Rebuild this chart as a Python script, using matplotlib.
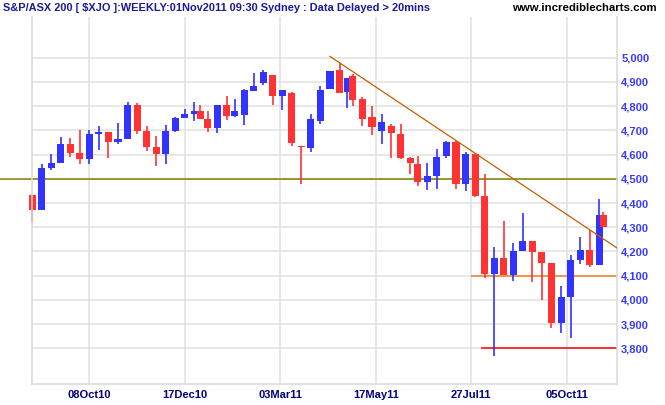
import numpy as np
import matplotlib
matplotlib.use("Agg")
import matplotlib.pyplot as plt

plt.rcParams['font.family'] = ['Liberation Sans', 'DejaVu Sans']

# ASX trading holidays inside the chart window (x axis counts trading days)
holidays = ['2010-12-27', '2010-12-28', '2011-01-03', '2011-01-26',
            '2011-04-22', '2011-04-25', '2011-04-26', '2011-06-13']

# weekly bars: Fridays from 27Aug10, last bar is the current week (01Nov11)
fridays = np.arange('2010-08-27', '2011-10-29', 7, dtype='datetime64[D]')
week_end = np.busday_offset(fridays, 0, roll='backward', holidays=holidays)
week_end = np.append(week_end, np.datetime64('2011-11-01'))

opens = [4432, 4371, 4545, 4565, 4642, 4605, 4582, 4685, 4692, 4652,
         4664, 4803, 4696, 4630, 4602, 4697, 4751, 4768, 4779, 4746,
         4710, 4803, 4759, 4763, 4862, 4895, 4927, 4842, 4853, 4637,
         4627, 4737, 4871, 4948, 4858, 4923, 4828, 4754, 4697, 4719,
         4686, 4584, 4563, 4486, 4511, 4593, 4653, 4478, 4604, 4427,
         4108, 4172, 4101, 4200, 4245, 4196, 4151, 3905, 4011, 4163,
         4204, 4143, 4352]
highs = [4439, 4560, 4601, 4671, 4667, 4700, 4700, 4717, 4692, 4729,
         4816, 4812, 4717, 4675, 4721, 4754, 4787, 4816, 4803, 4779,
         4803, 4840, 4828, 4872, 4935, 4948, 4927, 4865, 4857, 4637,
         4766, 4882, 4944, 4979, 4915, 4931, 4836, 4799, 4766, 4726,
         4727, 4592, 4596, 4567, 4625, 4658, 4658, 4612, 4604, 4519,
         4219, 4325, 4237, 4357, 4245, 4196, 4151, 4056, 4184, 4258,
         4287, 4418, 4361]
lows = [4318, 4371, 4536, 4565, 4590, 4561, 4561, 4619, 4586, 4644,
        4664, 4685, 4615, 4553, 4561, 4693, 4751, 4739, 4746, 4692,
        4689, 4743, 4755, 4722, 4862, 4887, 4803, 4783, 4635, 4479,
        4611, 4726, 4871, 4854, 4792, 4801, 4718, 4681, 4644, 4585,
        4581, 4519, 4470, 4453, 4458, 4585, 4458, 4449, 4425, 4092,
        3770, 4101, 4078, 4200, 4074, 4000, 3885, 3864, 3843, 4147,
        4136, 4143, 4300]
closes = [4371, 4543, 4564, 4642, 4607, 4582, 4684, 4692, 4652, 4663,
          4803, 4697, 4631, 4602, 4696, 4750, 4766, 4779, 4746, 4710,
          4803, 4759, 4779, 4865, 4882, 4939, 4842, 4865, 4648, 4630,
          4746, 4865, 4944, 4854, 4915, 4825, 4747, 4714, 4733, 4688,
          4585, 4564, 4486, 4510, 4592, 4653, 4478, 4604, 4427, 4108,
          4172, 4101, 4200, 4245, 4197, 4152, 3905, 4011, 4163, 4204,
          4143, 4352, 4300]

grid_dates = ['2010-10-08', '2010-12-17', '2011-03-03',
              '2011-05-17', '2011-07-27', '2011-10-05']
grid_labels = ['08Oct10', '17Dec10', '03Mar11', '17May11', '27Jul11', '05Oct11']
price_ticks = list(range(3800, 5001, 100))

# drawn lines
support_level = 4500
floor_level, floor_from = 4100, '2011-07-27'
low_level, low_from = 3800, '2011-08-03'
trend_dates = ['2011-04-15', '2011-07-15']
trend_prices = [4979, 4658]
trend_from = '2011-04-08'

origin = '2010-10-08'


def tday(d):
    """Position on the trading-day axis."""
    return np.busday_count(origin, np.asarray(d, dtype='datetime64[D]'),
                           holidays=holidays)


x = tday(week_end)
o, h, l, c = map(np.array, (opens, highs, lows, closes))
up = c >= o
colors = np.where(up, '#3333ff', '#ff3333')

fig = plt.figure(figsize=(6.65, 4.05), dpi=100)
ax = fig.add_axes([0.0474, 0.0519, 0.8804, 0.9062])

x_left, x_right = x[0] - 0.3, 276.3
ax.set_xlim(x_left, x_right)
ax.set_ylim(3653, 5168)

for gx in tday(grid_dates):
    ax.axvline(gx, color='#e0e0e0', lw=1.1, zorder=0)
for p in price_ticks:
    ax.axhline(p, color='#e0e0e0', lw=1.1, zorder=0)

ax.axhline(support_level, xmin=-0.054, color='#808000', lw=1.1,
           clip_on=False, zorder=1)
ax.hlines(floor_level, tday(floor_from), x_right, color='#f08020', lw=1.1, zorder=1)
ax.hlines(low_level, tday(low_from), x_right, color='#ff0000', lw=1.1, zorder=1)

tx = tday(trend_dates)
slope = (trend_prices[1] - trend_prices[0]) / (tx[1] - tx[0])
t0, t1 = tday(trend_from), x_right
ax.plot([t0, t1], [trend_prices[0] + slope * (t0 - tx[0]),
                   trend_prices[0] + slope * (t1 - tx[0])],
        color='#c06000', lw=0.9, zorder=3)

ax.vlines(x, l, h, colors=colors, lw=1.2, zorder=2, clip_on=False)
body = np.maximum(np.abs(c - o), 3)
ax.bar(x, body, bottom=np.minimum(o, c), width=3.7, color=colors,
       linewidth=0, zorder=2, clip_on=False)

ax.set_xticks(tday(grid_dates))
ax.set_xticklabels(grid_labels, color='#000080', fontsize=8, fontweight='bold')
ax.yaxis.tick_right()
ax.set_yticks(price_ticks)
ax.set_yticklabels([f'{p:,}' for p in price_ticks], color='#3a3aff',
                   fontsize=8, fontweight='bold')
ax.tick_params(length=0, pad=3)
ax.tick_params(axis='x', pad=4)

for side in ('left', 'right', 'bottom'):
    ax.spines[side].set_color('#d8d8d8')
    ax.spines[side].set_linewidth(1.1)
ax.spines['top'].set_visible(False)

fig.text(3 / 665, 1 - 8 / 405,
         'S&P/ASX 200 [ $XJO ]:WEEKLY:01Nov2011 09:30 Sydney : Data Delayed > 20mins',
         color='#1a1a9a', fontsize=7.9, fontweight='bold', va='center', ha='left')
fig.text(657 / 665, 1 - 8 / 405, 'www.incrediblecharts.com',
         color='black', fontsize=8.2, fontweight='bold', va='center', ha='right')

fig.savefig('out.png', dpi=100)
